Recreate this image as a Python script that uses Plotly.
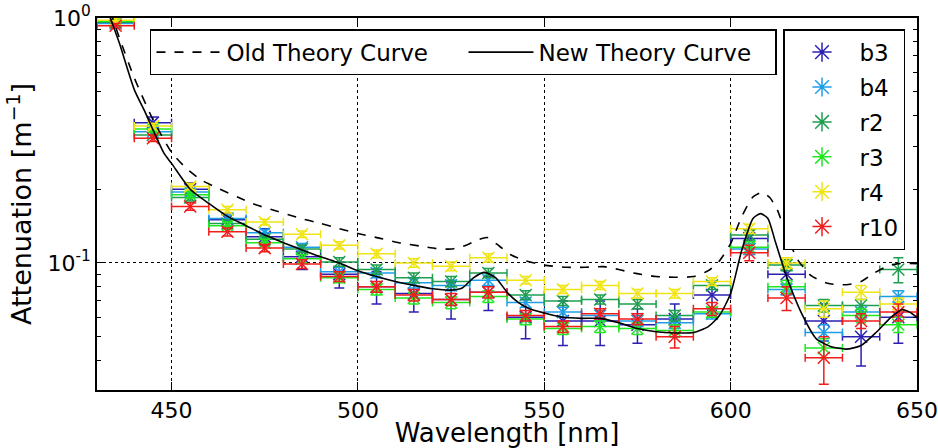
import numpy as np
import plotly.graph_objects as go

# Bin centres (nm) and half-width of each wavelength bin
wavelength = [435, 445, 455, 465, 475, 485, 495, 505, 515, 525, 535,
              545, 555, 565, 575, 585, 595, 605, 615, 625, 635, 645]
bin_half_width = 5.0

# Measured attenuation (1/m) per sample
b3 = [0.97, 0.374, 0.200, 0.150, 0.128, 0.106, 0.090, 0.080, 0.075, 0.071, 0.076,
      0.060, 0.058, 0.058, 0.056, 0.059, 0.074, 0.126, 0.090, 0.058, 0.050, 0.060]
b4 = [0.95, 0.343, 0.195, 0.152, 0.133, 0.116, 0.092, 0.091, 0.083, 0.081, 0.085,
      0.069, 0.063, 0.061, 0.058, 0.057, 0.062, 0.114, 0.078, 0.052, 0.063, 0.073]
r2 = [0.96, 0.333, 0.185, 0.145, 0.125, 0.114, 0.101, 0.094, 0.087, 0.084, 0.091,
      0.074, 0.070, 0.071, 0.068, 0.061, 0.081, 0.130, 0.098, 0.067, 0.067, 0.094]
r3 = [0.97, 0.352, 0.190, 0.142, 0.121, 0.104, 0.087, 0.078, 0.072, 0.069, 0.073,
      0.059, 0.054, 0.055, 0.054, 0.053, 0.063, 0.116, 0.080, 0.045, 0.061, 0.056]
r4 = [0.98, 0.362, 0.205, 0.165, 0.147, 0.131, 0.118, 0.109, 0.100, 0.097, 0.105,
      0.085, 0.078, 0.081, 0.075, 0.075, 0.084, 0.138, 0.100, 0.065, 0.076, 0.068]
r10 = [0.93, 0.323, 0.170, 0.134, 0.115, 0.099, 0.088, 0.080, 0.074, 0.071, 0.076,
       0.061, 0.055, 0.062, 0.059, 0.050, 0.065, 0.110, 0.072, 0.041, 0.058, 0.063]

# Uncertainties on attenuation
b3_err = [0.02, 0.02, 0.012, 0.010, 0.010, 0.012, 0.011, 0.012, 0.012, 0.012, 0.012,
          0.011, 0.012, 0.012, 0.009, 0.009, 0.010, 0.012, 0.010, 0.010, 0.012, 0.013]
b4_err = [0.02, 0.010, 0.006, 0.005, 0.004, 0.004, 0.004, 0.004, 0.004, 0.004, 0.004,
          0.003, 0.003, 0.003, 0.003, 0.003, 0.003, 0.006, 0.004, 0.004, 0.004, 0.004]
r2_err = [0.02, 0.010, 0.006, 0.005, 0.004, 0.004, 0.004, 0.004, 0.004, 0.004, 0.004,
          0.003, 0.003, 0.003, 0.003, 0.003, 0.003, 0.006, 0.005, 0.004, 0.004, 0.011]
r3_err = [0.02, 0.010, 0.006, 0.005, 0.004, 0.004, 0.004, 0.004, 0.004, 0.004, 0.004,
          0.003, 0.003, 0.003, 0.003, 0.003, 0.003, 0.006, 0.005, 0.004, 0.004, 0.004]
r4_err = [0.02, 0.010, 0.006, 0.005, 0.004, 0.004, 0.004, 0.004, 0.004, 0.004, 0.004,
          0.003, 0.003, 0.003, 0.003, 0.003, 0.003, 0.006, 0.005, 0.005, 0.005, 0.004]
r10_err = [0.02, 0.010, 0.006, 0.005, 0.004, 0.004, 0.004, 0.004, 0.004, 0.004, 0.004,
           0.003, 0.003, 0.003, 0.003, 0.005, 0.004, 0.008, 0.008, 0.009, 0.004, 0.005]

series_names = ["b3", "b4", "r2", "r3", "r4", "r10"]
series_values = [b3, b4, r2, r3, r4, r10]
series_errors = [b3_err, b4_err, r2_err, r3_err, r4_err, r10_err]
series_colors = ["#2c1fb2", "#1f9ee8", "#1e9e4f", "#22e622", "#f0e414", "#f21c1c"]

# Theory curves
old_wl = [432, 434, 436, 440, 445, 450, 454, 458, 463, 468, 473, 477, 484, 490, 495,
          500, 506, 511, 517, 521, 525, 529, 532, 534.7, 538, 541, 545, 550, 556, 561,
          566, 570, 574, 580, 585, 590, 594, 597, 600, 603, 606, 608.5, 610.5, 612.5,
          615, 618, 621.5, 626, 631, 635, 638.5, 642, 645, 650]
old_att = [1.25, 1.02, 0.83, 0.57, 0.385, 0.283, 0.243, 0.218, 0.200, 0.185, 0.172, 0.165,
           0.153, 0.145, 0.138, 0.132, 0.126, 0.121, 0.117, 0.1145, 0.114, 0.118, 0.124,
           0.127, 0.117, 0.108, 0.102, 0.098, 0.096, 0.096, 0.0966, 0.094, 0.091, 0.088,
           0.0875, 0.088, 0.093, 0.102, 0.120, 0.155, 0.186, 0.194, 0.185, 0.165, 0.130,
           0.103, 0.089, 0.0826, 0.0815, 0.084, 0.091, 0.097, 0.0994, 0.0994]
new_wl = [432, 433.6, 436, 440, 443, 445, 448, 450, 455, 460, 465, 470, 475, 480, 485,
          490, 495, 500, 505, 510, 515, 520, 525, 528, 531, 534, 537, 540, 543, 546, 550,
          555, 560, 565, 570, 575, 580, 585, 590, 594, 597, 600, 603, 606, 608, 610, 612,
          615, 619, 623, 627, 631, 635, 639, 643, 646, 648, 650]
new_att = [1.2, 1.0, 0.79, 0.51, 0.41, 0.35, 0.28, 0.255, 0.200, 0.175, 0.155, 0.142,
           0.130, 0.121, 0.113, 0.106, 0.100, 0.093, 0.088, 0.084, 0.081, 0.0785, 0.0775,
           0.079, 0.087, 0.0915, 0.087, 0.076, 0.069, 0.065, 0.0625, 0.060, 0.0594, 0.0594,
           0.057, 0.054, 0.0524, 0.0518, 0.052, 0.055, 0.061, 0.075, 0.113, 0.152, 0.159,
           0.152, 0.122, 0.088, 0.0624, 0.049, 0.0455, 0.0445, 0.046, 0.052, 0.060,
           0.0645, 0.063, 0.060]

FONT = "DejaVu Sans"

fig = go.Figure()

# Binned measurements with wavelength and attenuation error bars
for name, vals, errs, color in zip(series_names, series_values, series_errors, series_colors):
    fig.add_trace(go.Scatter(
        x=wavelength, y=vals, mode="markers", showlegend=False,
        marker=dict(symbol="x-thin-open", size=12, color=color,
                    line=dict(width=1.5, color=color)),
        error_x=dict(type="constant", value=bin_half_width, color=color,
                     thickness=1.5, width=4),
        error_y=dict(type="data", array=errs, color=color, thickness=1.5, width=5),
    ))

# Theory curves
fig.add_trace(go.Scatter(
    x=old_wl, y=old_att, mode="lines", name="Old Theory Curve", legend="legend",
    line=dict(color="black", width=1.6, dash="dash", shape="spline", smoothing=0.6),
))
fig.add_trace(go.Scatter(
    x=new_wl, y=new_att, mode="lines", name="New Theory Curve", legend="legend",
    line=dict(color="black", width=1.6, shape="spline", smoothing=0.6),
))

# Legend entries for the samples
for name, color in zip(series_names, series_colors):
    fig.add_trace(go.Scatter(
        x=[None], y=[None], mode="markers", name=name, legend="legend2",
        legendgroup=name,
        marker=dict(symbol="asterisk-open", size=16, color=color,
                    line=dict(width=1.5, color=color)),
    ))

minor_y = [0.04, 0.05, 0.06, 0.07, 0.08, 0.09, 0.2, 0.3, 0.4, 0.5, 0.6, 0.7, 0.8, 0.9]

fig.update_layout(
    width=938, height=448,
    margin=dict(l=97, r=21, t=18, b=58),
    plot_bgcolor="white", paper_bgcolor="white",
    font=dict(family=FONT, size=22, color="black"),
    xaxis=dict(
        range=[430, 650], tickvals=[450, 500, 550, 600, 650],
        ticks="inside", ticklen=8, tickwidth=1, tickcolor="black",
        showline=True, linecolor="black", linewidth=1.5, mirror="ticks",
        showgrid=True, gridcolor="black", griddash="dot", gridwidth=1,
        zeroline=False, automargin=False,
        title=dict(text="Wavelength [nm]", standoff=6, font=dict(size=26)),
    ),
    yaxis=dict(
        type="log", range=[np.log10(0.0303), 0],
        tickvals=[0.1, 1], ticktext=["10<sup>-1</sup>", "10<sup>0</sup>"],
        ticks="inside", ticklen=8, tickwidth=1, tickcolor="black",
        showline=True, linecolor="black", linewidth=1.5, mirror="ticks",
        showgrid=True, gridcolor="black", griddash="dot", gridwidth=1,
        zeroline=False, automargin=False,
        minor=dict(tickvals=minor_y, ticks="inside", ticklen=4, tickcolor="black",
                   showgrid=False),
        title=dict(text="Attenuation [m<sup>−1</sup>]", standoff=8, font=dict(size=27)),
    ),
    legend=dict(
        orientation="h", x=0.0646, y=0.97, xanchor="left", yanchor="top",
        bordercolor="black", borderwidth=1.5, bgcolor="white",
        entrywidth=232, itemwidth=65, font=dict(size=23),
    ),
    legend2=dict(
        x=0.8366, y=0.97, xanchor="left", yanchor="top",
        bordercolor="black", borderwidth=1.5, bgcolor="white",
        tracegroupgap=2, itemwidth=65, font=dict(size=23),
    ),
)

fig.write_html("out.html")
